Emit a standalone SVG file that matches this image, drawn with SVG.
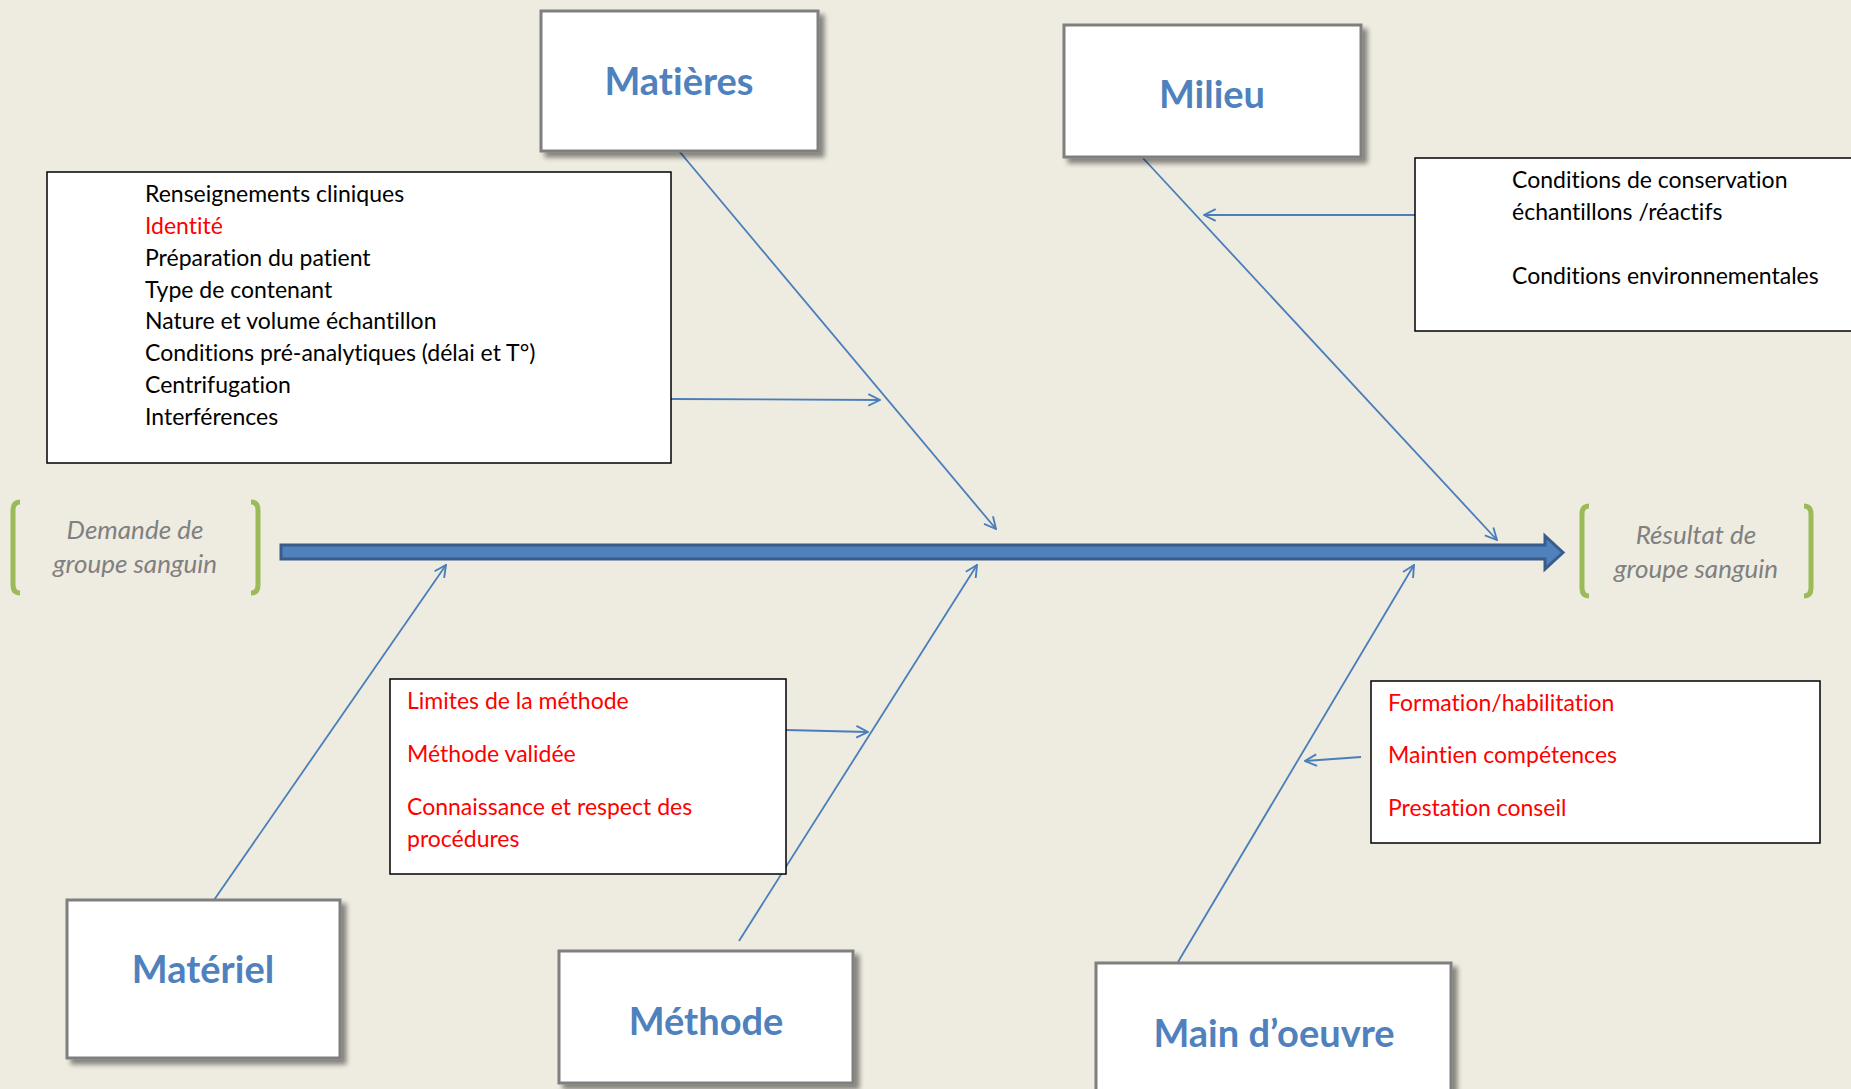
<svg xmlns="http://www.w3.org/2000/svg" width="1851" height="1089" viewBox="0 0 1851 1089">
  <defs>
    <marker id="arr" viewBox="0 0 12 12" refX="11" refY="6" markerWidth="14" markerHeight="14" markerUnits="userSpaceOnUse" orient="auto">
      <path d="M1,1 L11,6 L1,11" fill="none" stroke="#4A7EBB" stroke-width="1.6"/>
    </marker>
    <filter id="sh" x="-10%" y="-10%" width="130%" height="130%">
      <feGaussianBlur in="SourceAlpha" stdDeviation="2.5"/>
      <feOffset dx="5" dy="5" result="b"/>
      <feComponentTransfer><feFuncA type="linear" slope="0.45"/></feComponentTransfer>
      <feMerge><feMergeNode/><feMergeNode in="SourceGraphic"/></feMerge>
    </filter>
  </defs>
  <style>
    text { font-variant-ligatures: none; }
    .cat rect { fill: #ffffff; stroke: #7f7f7f; stroke-width: 3; }
    .cat text { font-family: Lato, "Liberation Sans", sans-serif; font-weight: bold; font-size: 38px; fill: #4F81BD; text-anchor: middle; }
    .tb rect { fill: #ffffff; stroke: #000000; stroke-width: 1.5; }
    .tb text { font-family: Lato, "Liberation Sans", sans-serif; font-size: 23px; fill: #000000; }
    .tb text.red { fill: #FF0000; }
    .conn line { stroke: #4A7EBB; stroke-width: 1.8; marker-end: url(#arr); }
    .br path { fill: none; stroke: #9BBB59; stroke-width: 5; }
    .br text { font-family: Lato, "Liberation Sans", sans-serif; font-style: italic; font-size: 26px; fill: #808080; text-anchor: middle; }
  </style>
  <rect x="0" y="0" width="1851" height="1089" fill="#EEEBE0"/>

  <g id="connectors" class="conn">
    <line x1="679" y1="151" x2="996" y2="529"/>
    <line x1="671" y1="399" x2="880" y2="400"/>
    <line x1="1142" y1="157" x2="1497" y2="540"/>
    <line x1="1415" y1="215" x2="1204" y2="215"/>
    <line x1="214" y1="900" x2="446" y2="565"/>
    <line x1="739" y1="941" x2="977" y2="565"/>
    <line x1="786" y1="730" x2="868" y2="732"/>
    <line x1="1178" y1="962" x2="1414" y2="565"/>
    <line x1="1361" y1="757" x2="1305" y2="761"/>
  </g>

  <g id="spine">
    <path d="M281,545 L1545,545 L1545,536 L1563,552.5 L1545,569 L1545,559 L281,559 Z" fill="#4F81BD" stroke="#385D8A" stroke-width="3" stroke-linejoin="miter"/>
  </g>

  <g id="start" class="br">
    <path d="M20,502 Q13,502 13,510 L13,585 Q13,593 20,593"/>
    <path d="M251,502 Q258,502 258,510 L258,585 Q258,593 251,593"/>
    <text x="135" y="539">Demande de</text>
    <text x="135" y="573">groupe sanguin</text>
  </g>

  <g id="end" class="br">
    <path d="M1589,506 Q1582,506 1582,514 L1582,588 Q1582,596 1589,596"/>
    <path d="M1804,506 Q1811,506 1811,514 L1811,588 Q1811,596 1804,596"/>
    <text x="1696" y="544">Résultat de</text>
    <text x="1696" y="578">groupe sanguin</text>
  </g>

  <g id="matieres" class="cat">
    <rect x="541" y="11" width="277" height="140" filter="url(#sh)"/>
    <text x="679" y="95">Matières</text>
  </g>
  <g id="milieu" class="cat">
    <rect x="1064" y="25" width="297" height="132" filter="url(#sh)"/>
    <text x="1212" y="108">Milieu</text>
  </g>
  <g id="materiel" class="cat">
    <rect x="67" y="900" width="273" height="158" filter="url(#sh)"/>
    <text x="203" y="983">Matériel</text>
  </g>
  <g id="methode" class="cat">
    <rect x="559" y="951" width="294" height="132" filter="url(#sh)"/>
    <text x="706" y="1035">Méthode</text>
  </g>
  <g id="main-oeuvre" class="cat">
    <rect x="1096" y="963" width="355" height="140" filter="url(#sh)"/>
    <text x="1274" y="1047">Main d’oeuvre</text>
  </g>

  <g id="matieres-causes" class="tb">
    <rect x="47" y="172" width="624" height="291"/>
    <text x="145" y="202">Renseignements cliniques</text>
    <text x="145" y="234" class="red">Identité</text>
    <text x="145" y="266">Préparation du patient</text>
    <text x="145" y="298">Type de contenant</text>
    <text x="145" y="329">Nature et volume échantillon</text>
    <text x="145" y="361">Conditions pré-analytiques (délai et T°)</text>
    <text x="145" y="393">Centrifugation</text>
    <text x="145" y="425">Interférences</text>
  </g>

  <g id="milieu-causes" class="tb">
    <rect x="1415" y="158" width="450" height="173"/>
    <text x="1512" y="188">Conditions de conservation</text>
    <text x="1512" y="220">échantillons /réactifs</text>
    <text x="1512" y="284">Conditions environnementales</text>
  </g>

  <g id="methode-causes" class="tb">
    <rect x="390" y="679" width="396" height="195"/>
    <text x="407" y="709" class="red">Limites de la méthode</text>
    <text x="407" y="762" class="red">Méthode validée</text>
    <text x="407" y="815" class="red">Connaissance et respect des</text>
    <text x="407" y="847" class="red">procédures</text>
  </g>

  <g id="main-oeuvre-causes" class="tb">
    <rect x="1371" y="681" width="449" height="162"/>
    <text x="1388" y="711" class="red">Formation/habilitation</text>
    <text x="1388" y="763" class="red">Maintien compétences</text>
    <text x="1388" y="816" class="red">Prestation conseil</text>
  </g>
</svg>
